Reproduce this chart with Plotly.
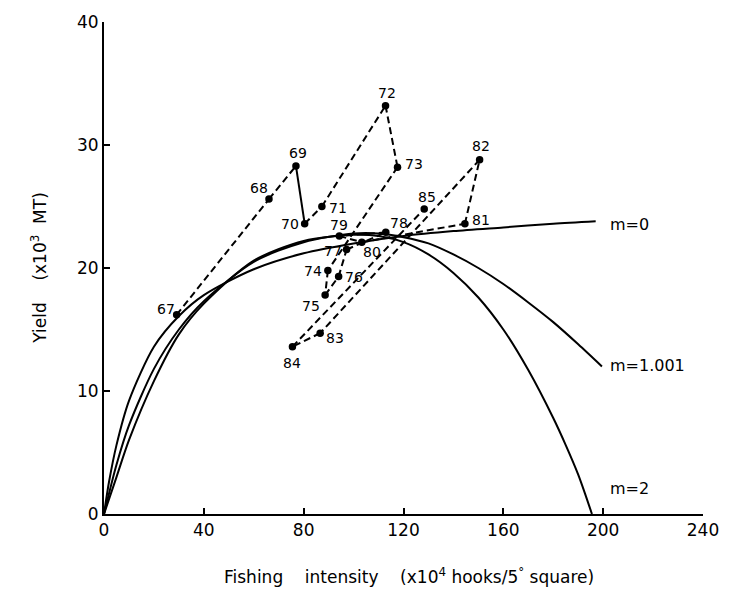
import plotly.graph_objects as go

# ---- data ----
years = ["67", "68", "69", "70", "71", "72", "73", "74", "75", "76",
         "77", "78", "79", "80", "81", "82", "83", "84", "85"]
effort = [29.1, 66.1, 76.9, 80.4, 87.3, 112.8, 117.6, 89.7, 88.6, 94.0,
          97.2, 112.9, 94.3, 103.3, 144.6, 150.5, 86.6, 75.5, 128.3]
yield_ = [16.2, 25.6, 28.3, 23.6, 25.0, 33.2, 28.2, 19.8, 17.8, 19.3,
          21.5, 22.9, 22.6, 22.1, 23.6, 28.8, 14.7, 13.6, 24.8]

m0_x = [0, 2, 5, 10, 20, 30, 40, 60, 80, 100, 120, 140, 160, 180, 197]
m0_y = [0, 2.6, 5.6, 9.2, 13.6, 16.1, 17.8, 19.9, 21.2, 22.0, 22.6, 23.0, 23.3, 23.6, 23.8]

m1_x = [0, 5, 10, 20, 30, 40, 60, 80, 100, 110, 120, 130, 140, 150, 160, 170, 180, 190, 199.5]
m1_y = [0, 4.0, 7.2, 11.8, 15.0, 17.3, 20.5, 22.1, 22.8, 22.8, 22.5, 22.0, 21.1, 20.0, 18.7, 17.2, 15.6, 13.8, 12.0]

m2_x = [0, 5, 10, 20, 30, 40, 60, 80, 100, 110, 120, 130, 140, 150, 160, 170, 180, 185, 190, 193, 195.5]
m2_y = [0, 3.0, 6.0, 10.8, 14.6, 17.1, 20.6, 22.2, 22.7, 22.6, 22.1, 21.1, 19.6, 17.6, 15.0, 11.7, 7.8, 5.6, 3.2, 1.5, 0]

curve_labels = ["m=0", "m=1.001", "m=2"]
curve_label_y = [23.5, 12.1, 2.1]

x_ticks = [0, 40, 80, 120, 160, 200, 240]
y_ticks = [0, 10, 20, 30, 40]

# label offsets in pixels (dx, dy) -- style only
label_off = {
    "67": (-11, -6), "68": (-10, -11), "69": (2, -13), "70": (-15, 0),
    "71": (16, 1), "72": (1, -13), "73": (16, -3), "74": (-15, 1),
    "75": (-14, 11), "76": (15, 0), "77": (-14, 1), "78": (13, -9),
    "79": (0, -11), "80": (10, 10), "81": (16, -4), "82": (1, -14),
    "83": (15, 5), "84": (0, 16), "85": (3, -12),
}

FONT = "DejaVu Sans"
fig = go.Figure()

for cx, cy in [(m0_x, m0_y), (m1_x, m1_y), (m2_x, m2_y)]:
    fig.add_trace(go.Scatter(x=cx, y=cy, mode="lines",
                             line=dict(color="black", width=2, shape="spline", smoothing=0.8),
                             hoverinfo="skip", showlegend=False))

# connecting segments (chronological)
for i in range(len(years) - 1):
    dash = "solid" if years[i] == "69" else "7px,4px"
    fig.add_trace(go.Scatter(x=effort[i:i + 2], y=yield_[i:i + 2], mode="lines",
                             line=dict(color="black", width=2, dash=dash),
                             hoverinfo="skip", showlegend=False))

fig.add_trace(go.Scatter(x=effort, y=yield_, mode="markers",
                         marker=dict(color="black", size=7.5),
                         hoverinfo="skip", showlegend=False))

for yr, ex, yv in zip(years, effort, yield_):
    dx, dy = label_off[yr]
    fig.add_annotation(x=ex, y=yv, text=yr, showarrow=False, xshift=dx, yshift=-dy,
                       font=dict(family=FONT, size=14, color="black"))

for lab, ly in zip(curve_labels, curve_label_y):
    fig.add_annotation(x=202, y=ly, text=lab, showarrow=False, xanchor="left",
                       font=dict(family=FONT, size=16, color="black"))

fig.add_annotation(xref="paper", yref="paper", x=0.51, y=-0.127,
                   text="Fishing    intensity    (x10<sup>4</sup> hooks/5<sup>°</sup> square)",
                   showarrow=False, yanchor="middle", xanchor="center",
                   font=dict(family=FONT, size=17, color="black"))
fig.add_annotation(xref="paper", yref="paper", x=-0.109, y=0.5,
                   text="Yield    (x10<sup>3</sup>  MT)", textangle=-90,
                   showarrow=False, xanchor="center", yanchor="middle",
                   font=dict(family=FONT, size=17, color="black"))

fig.update_xaxes(range=[0, 240], tickvals=x_ticks, ticks="inside", ticklen=6,
                 tickwidth=1.5, tickcolor="black", showline=True, linecolor="black",
                 linewidth=2, showgrid=False, zeroline=False,
                 tickfont=dict(family=FONT, size=17, color="black"))
fig.update_yaxes(range=[0, 40], tickvals=y_ticks, ticks="inside", ticklen=6,
                 tickwidth=1.5, tickcolor="black", showline=True, linecolor="black",
                 linewidth=2, showgrid=False, zeroline=False,
                 tickfont=dict(family=FONT, size=17, color="black"))

fig.update_layout(width=731, height=595, margin=dict(l=104, r=21, t=19, b=81),
                  plot_bgcolor="white", paper_bgcolor="white", showlegend=False)

fig.write_html("out.html")
